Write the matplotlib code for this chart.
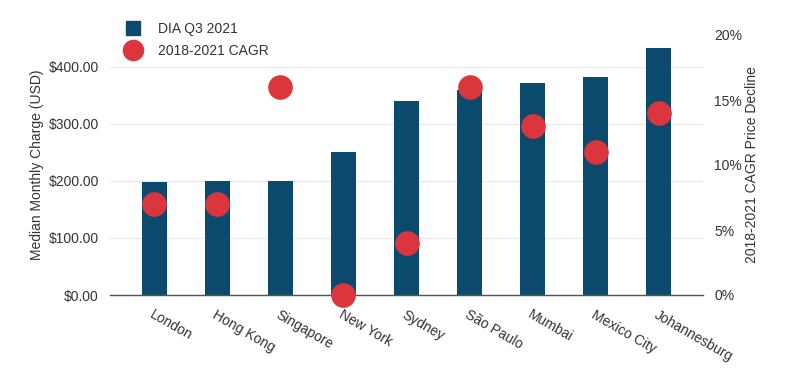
import matplotlib
matplotlib.use("Agg")
import matplotlib.pyplot as plt
from matplotlib.lines import Line2D
from matplotlib.ticker import FuncFormatter

plt.rcParams['font.family'] = ['Liberation Sans', 'DejaVu Sans']

cities = ["London", "Hong Kong", "Singapore", "New York", "Sydney",
          "São Paulo", "Mumbai", "Mexico City", "Johannesburg"]
dia_q3_2021 = [198, 200, 200, 251, 340, 360, 371, 382, 433]
cagr_decline = [7, 7, 16, 0, 4, 16, 13, 11, 14]

bar_color = "#0b4a6d"
dot_color = "#db363d"
text_color = "#333333"

fig = plt.figure(figsize=(7.94, 3.69), dpi=100)
ax = fig.add_axes([110/794, 1 - 295/369, (703-110)/794, (295-35)/369])
ax2 = ax.twinx()

x = list(range(len(cities)))
ax.bar(x, dia_q3_2021, width=0.4, color=bar_color, zorder=2)
ax2.scatter(x, cagr_decline, s=280, color=dot_color, zorder=3, clip_on=False)

ax.set_xlim(-0.7, len(cities) - 0.3)
ax.set_ylim(0, 456)
ax2.set_ylim(0, 20)

ax.set_yticks([0, 100, 200, 300, 400])
ax.yaxis.set_major_formatter(FuncFormatter(lambda v, p: f"${v:,.2f}"))
ax2.set_yticks([0, 5, 10, 15, 20])
ax2.yaxis.set_major_formatter(FuncFormatter(lambda v, p: f"{v:.0f}%"))

ax.grid(axis='y', color="#ebebeb", linewidth=1, zorder=0)
ax.set_axisbelow(True)

for a in (ax, ax2):
    for s in ("top", "left", "right"):
        a.spines[s].set_visible(False)
    a.tick_params(length=0, labelsize=10, labelcolor=text_color)
ax2.spines["bottom"].set_visible(False)
ax.spines["bottom"].set_color("#555555")
ax.spines["bottom"].set_linewidth(1)

ax.set_xticks(x)
ax.set_xticklabels(cities, rotation=-30, ha='left', rotation_mode='anchor')
ax.tick_params(axis='x', pad=9)
ax.tick_params(axis='y', pad=8)
ax2.tick_params(axis='y', pad=8)

ax.set_ylabel("Median Monthly Charge (USD)", fontsize=10, color=text_color, labelpad=3)
ax2.set_ylabel("2018-2021 CAGR Price Decline", fontsize=10, color=text_color, labelpad=2)

handles = [
    Line2D([], [], marker='s', linestyle='none', markersize=9.5, color=bar_color),
    Line2D([], [], marker='o', linestyle='none', markersize=14.5, color=dot_color),
]
fig.legend(handles, ["DIA Q3 2021", "2018-2021 CAGR"], loc='upper left',
           bbox_to_anchor=(113.5/794, 1 - 16/369), frameon=False, fontsize=10,
           labelcolor=text_color, handletextpad=0.8, labelspacing=0.6,
           borderaxespad=0)

fig.savefig("out.png", dpi=100)
